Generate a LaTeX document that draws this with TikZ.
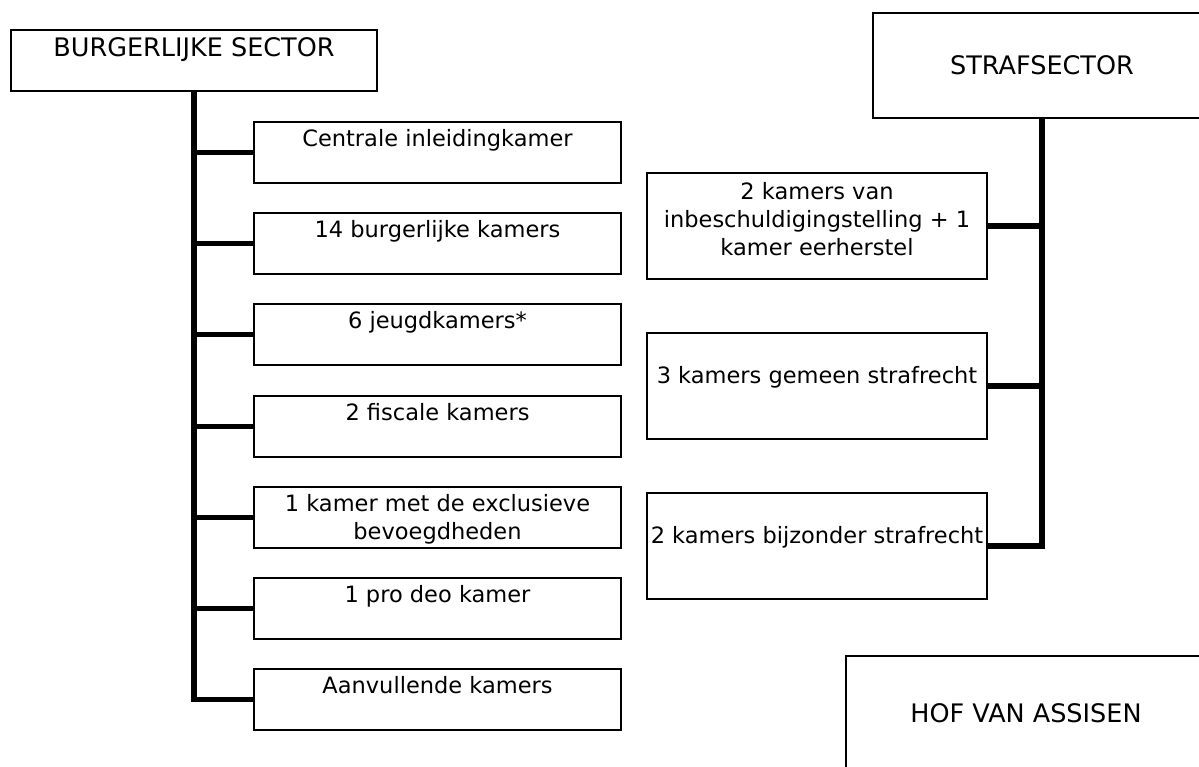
\documentclass[tikz,border=0pt]{standalone}
\usepackage{fontspec}
\setmainfont{DejaVu Sans}

\begin{document}
\begin{tikzpicture}[x=1pt, y=-1pt,
		kamer/.style={draw, line width=1.3pt, rectangle, inner sep=0pt, minimum width=367pt, minimum height=61pt},
		strafkamer/.style={kamer, minimum width=340pt, minimum height=106pt},
		tekst/.style={inner sep=0pt, anchor=north, align=center, font=\fontsize{22.5}{28}\selectfont},
		titel/.style={tekst, font=\fontsize{25.5}{30}\selectfont},
		tak/.style={line width=5.5pt, line join=miter}]
		\useasboundingbox (0,0) rectangle (1199,766);

		% sectors
		\node[kamer, minimum width=366pt] (burg) at (194,60.5) {};
		\node[titel] (burgtekst) at ([yshift=-8pt]burg.north) {BURGERLIJKE SECTOR};
		\node[kamer, minimum width=338pt, minimum height=105pt] (straf) at (1042,65.5) {};
		\node[titel, anchor=center] (straftekst) at (straf.center) {STRAFSECTOR};
		\node[kamer, minimum width=360pt, minimum height=114pt] (hof) at (1026,713) {};
		\node[titel, anchor=center] (hoftekst) at (hof.center) {HOF VAN ASSISEN};

		% burgerlijke kamers
		\node[kamer] (b1) at (437.5,152.5) {};
		\node[kamer] (b2) at (437.5,243.5) {};
		\node[kamer] (b3) at (437.5,334.5) {};
		\node[kamer] (b4) at (437.5,426.5) {};
		\node[kamer] (b5) at (437.5,517.5) {};
		\node[kamer] (b6) at (437.5,608.5) {};
		\node[kamer] (b7) at (437.5,699.5) {};
		\node[tekst] (b1tekst) at ([yshift=-8pt]b1.north) {Centrale inleidingkamer};
		\node[tekst] (b2tekst) at ([yshift=-8pt]b2.north) {14 burgerlijke kamers};
		\node[tekst] (b3tekst) at ([yshift=-8pt]b3.north) {6 jeugdkamers*};
		\node[tekst] (b4tekst) at ([yshift=-8pt]b4.north) {2 fiscale kamers};
		\node[tekst] (b5tekst) at ([yshift=-8pt]b5.north) {1 kamer met de exclusieve\\bevoegdheden};
		\node[tekst] (b6tekst) at ([yshift=-8pt]b6.north) {1 pro deo kamer};
		\node[tekst] (b7tekst) at ([yshift=-8pt]b7.north) {Aanvullende kamers};

		% strafkamers
		\node[strafkamer] (s1) at (817,226) {};
		\node[strafkamer] (s2) at (817,386) {};
		\node[strafkamer] (s3) at (817,546) {};
		\node[tekst] (s1tekst) at ([yshift=-10pt]s1.north) {2 kamers van\\inbeschuldigingstelling + 1\\kamer eerherstel};
		\node[tekst] (s2tekst) at ([yshift=-34pt]s2.north) {3 kamers gemeen strafrecht};
		\node[tekst] (s3tekst) at ([yshift=-34pt]s3.north) {2 kamers bijzonder strafrecht};

		% branches
		\draw[tak] (burg.south) -- (burg.south |- b7.west) -- (b7.west);
		\draw[tak] (burg.south |- b1.west) -- (b1.west);
		\draw[tak] (burg.south |- b2.west) -- (b2.west);
		\draw[tak] (burg.south |- b3.west) -- (b3.west);
		\draw[tak] (burg.south |- b4.west) -- (b4.west);
		\draw[tak] (burg.south |- b5.west) -- (b5.west);
		\draw[tak] (burg.south |- b6.west) -- (b6.west);

		\draw[tak] (straf.south) -- (straf.south |- s3.east) -- (s3.east);
		\draw[tak] (straf.south |- s1.east) -- (s1.east);
		\draw[tak] (straf.south |- s2.east) -- (s2.east);
	\end{tikzpicture}
\end{document}
